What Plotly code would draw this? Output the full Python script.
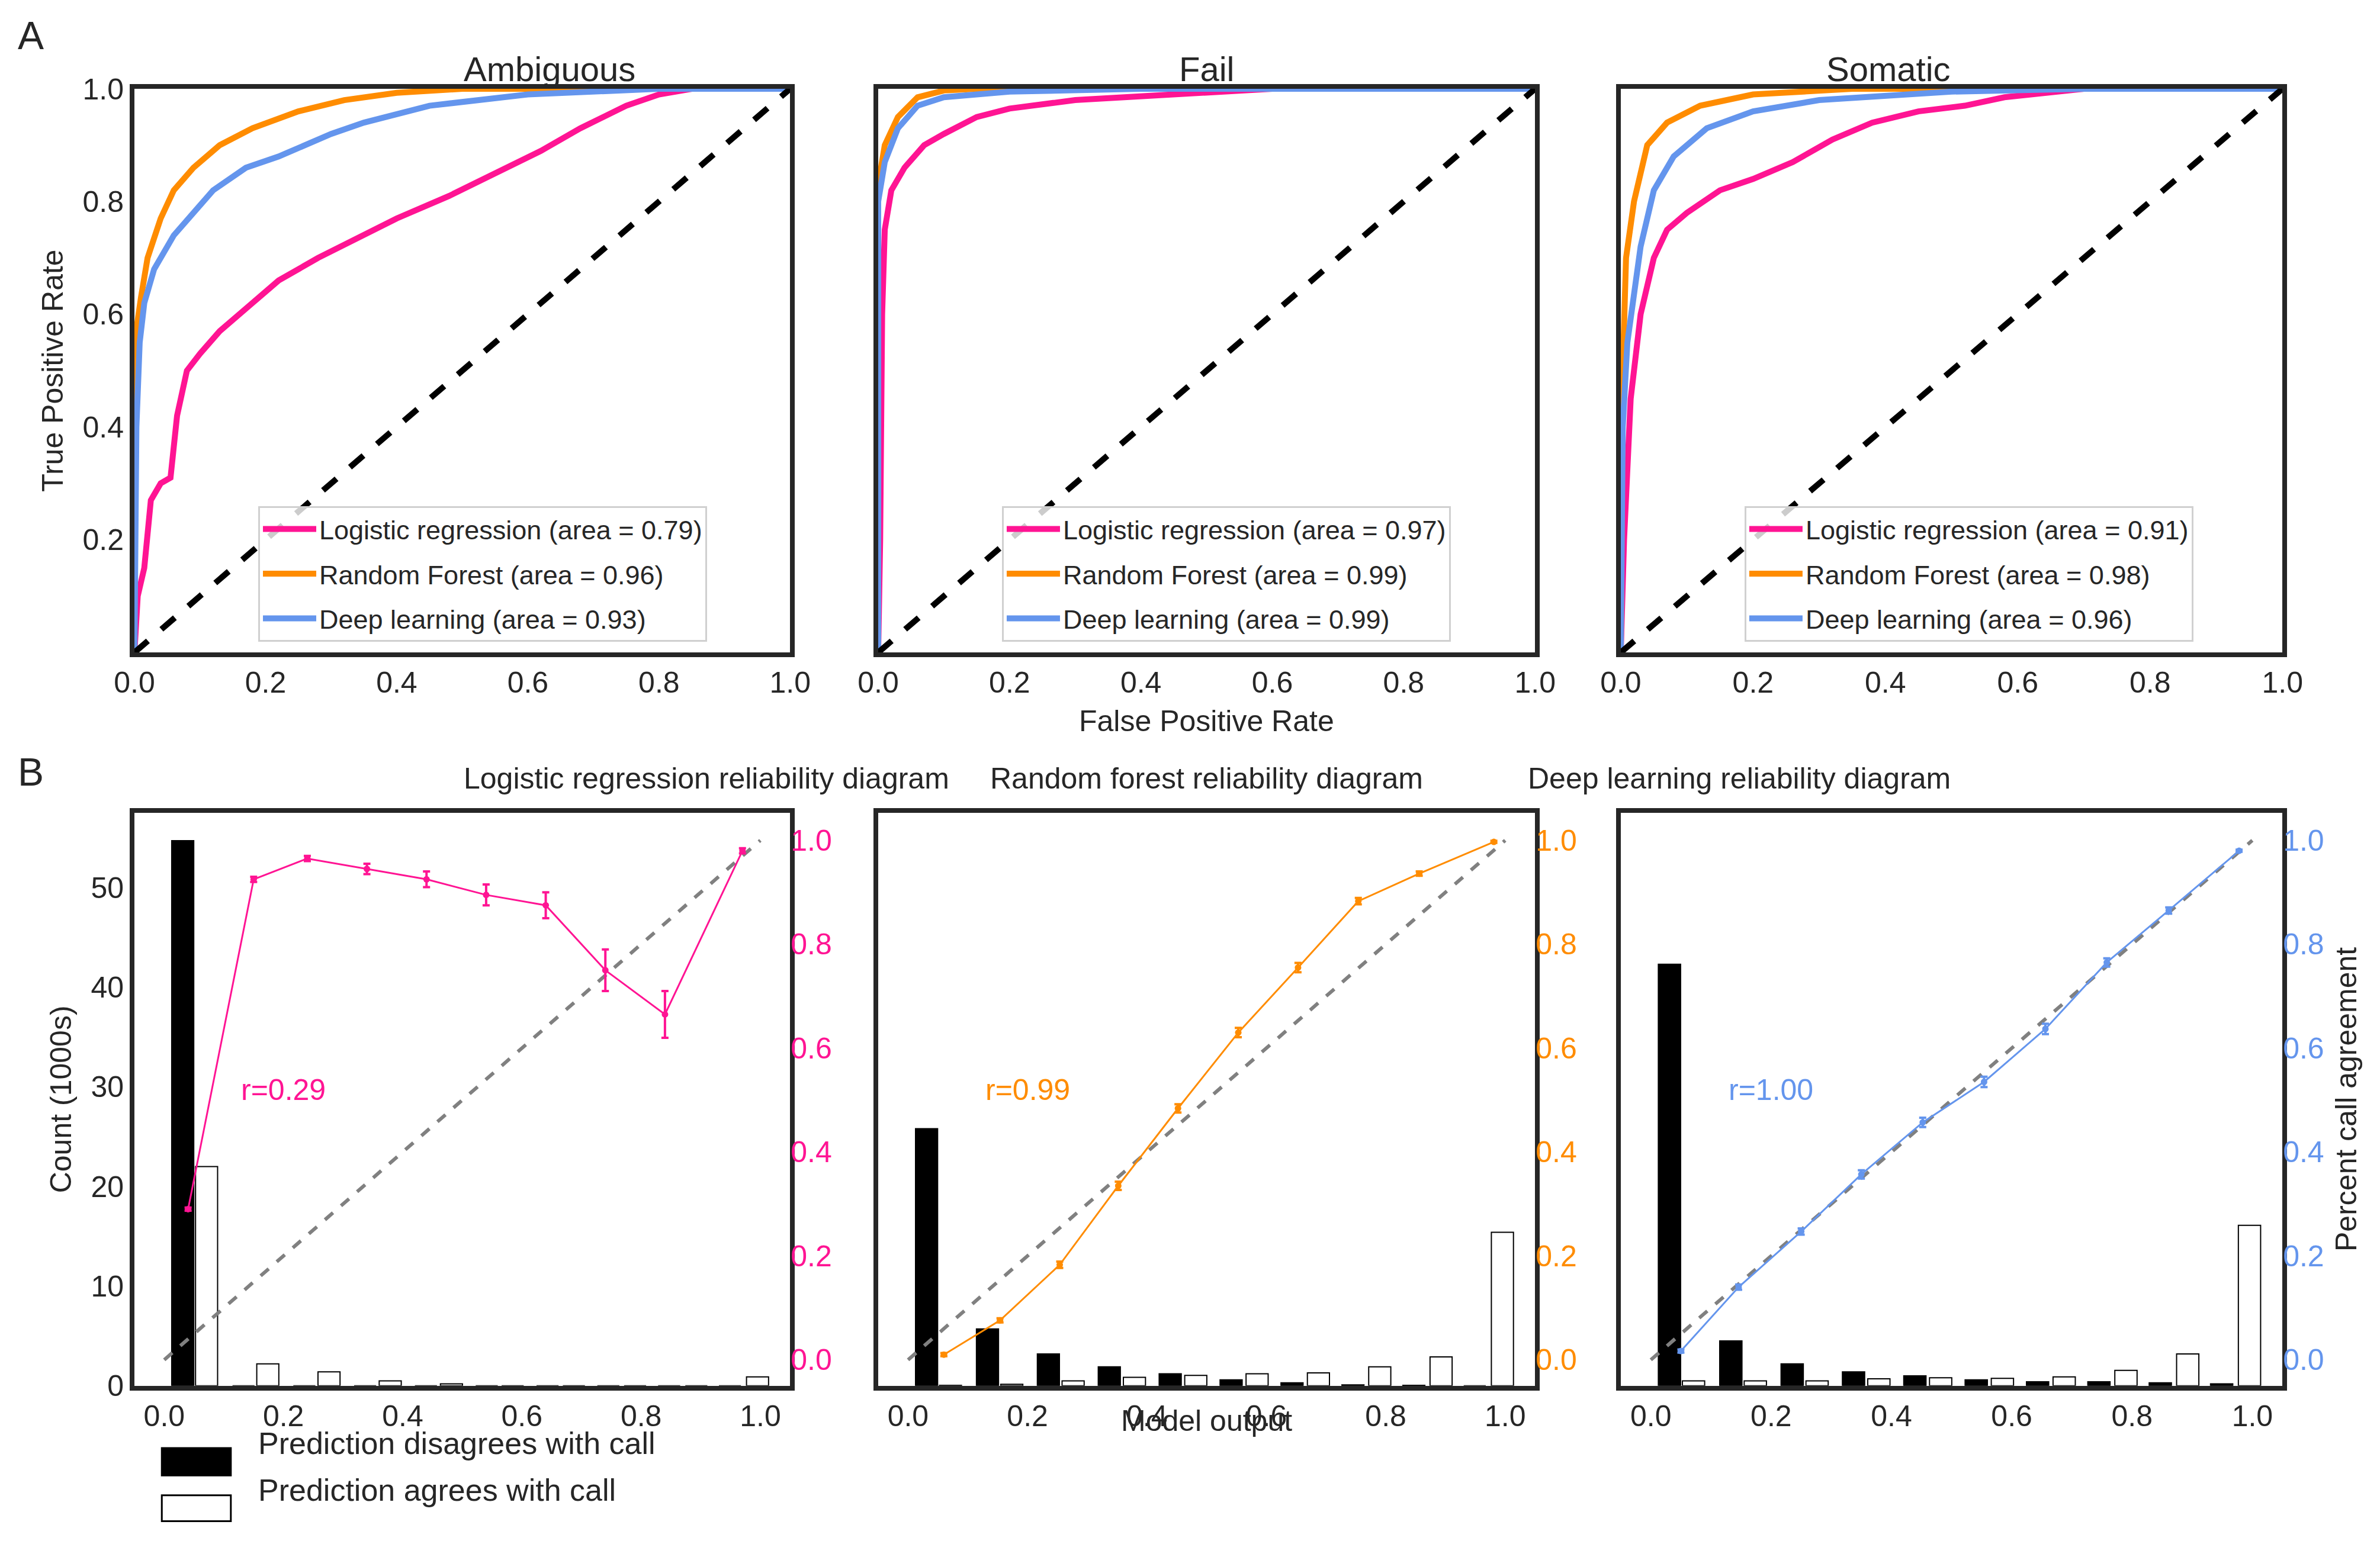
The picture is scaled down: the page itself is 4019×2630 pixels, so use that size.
import plotly.graph_objects as go

# ROC curves (FPR, TPR)
roc_titles = ["Ambiguous", "Fail", "Somatic"]
model_names = ["Logistic regression", "Random Forest", "Deep learning"]
model_colors = ["#ff1493", "#ff8c00", "#6495ed"]
auc = [[0.79, 0.96, 0.93], [0.97, 0.99, 0.99], [0.91, 0.98, 0.96]]

amb_lr_x = [0, 0.005, 0.015, 0.025, 0.04, 0.055, 0.065, 0.08, 0.1, 0.13, 0.18, 0.22, 0.28, 0.33, 0.4, 0.48, 0.55, 0.62, 0.68, 0.75, 0.8, 0.85, 1]
amb_lr_y = [0, 0.1, 0.15, 0.27, 0.3, 0.31, 0.42, 0.5, 0.53, 0.57, 0.62, 0.66, 0.7, 0.73, 0.77, 0.81, 0.85, 0.89, 0.93, 0.97, 0.99, 1.0, 1]
amb_rf_x = [0, 0, 0.01, 0.02, 0.04, 0.06, 0.09, 0.13, 0.18, 0.25, 0.32, 0.4, 0.5, 1]
amb_rf_y = [0, 0.55, 0.63, 0.7, 0.77, 0.82, 0.86, 0.9, 0.93, 0.96, 0.98, 0.993, 1.0, 1]
amb_dl_x = [0, 0.003, 0.008, 0.015, 0.03, 0.06, 0.09, 0.12, 0.17, 0.22, 0.3, 0.35, 0.45, 0.6, 0.8, 1]
amb_dl_y = [0, 0.4, 0.55, 0.62, 0.68, 0.74, 0.78, 0.82, 0.86, 0.88, 0.92, 0.94, 0.97, 0.99, 1.0, 1]

fail_lr_x = [0, 0.003, 0.006, 0.01, 0.02, 0.04, 0.07, 0.1, 0.15, 0.2, 0.3, 0.45, 0.6, 1]
fail_lr_y = [0, 0.2, 0.6, 0.75, 0.82, 0.86, 0.9, 0.92, 0.95, 0.965, 0.98, 0.99, 1.0, 1]
fail_rf_x = [0, 0, 0.01, 0.03, 0.06, 0.1, 0.15, 1]
fail_rf_y = [0, 0.83, 0.9, 0.95, 0.985, 0.997, 1, 1]
fail_dl_x = [0, 0, 0.01, 0.03, 0.06, 0.1, 0.2, 0.4, 1]
fail_dl_y = [0, 0.8, 0.87, 0.93, 0.97, 0.985, 0.995, 1.0, 1]

som_lr_x = [0, 0.005, 0.015, 0.03, 0.05, 0.07, 0.1, 0.15, 0.2, 0.26, 0.32, 0.38, 0.45, 0.52, 0.58, 0.7, 1]
som_lr_y = [0, 0.2, 0.45, 0.6, 0.7, 0.75, 0.78, 0.82, 0.84, 0.87, 0.91, 0.94, 0.96, 0.97, 0.985, 1.0, 1]
som_rf_x = [0, 0.003, 0.008, 0.02, 0.04, 0.07, 0.12, 0.2, 0.35, 1]
som_rf_y = [0, 0.5, 0.7, 0.8, 0.9, 0.94, 0.97, 0.99, 1.0, 1]
som_dl_x = [0, 0.003, 0.01, 0.03, 0.05, 0.08, 0.13, 0.2, 0.3, 0.5, 0.7, 1]
som_dl_y = [0, 0.4, 0.55, 0.72, 0.82, 0.88, 0.93, 0.96, 0.98, 0.995, 1, 1]

roc_data = [
    [(amb_lr_x, amb_lr_y), (amb_rf_x, amb_rf_y), (amb_dl_x, amb_dl_y)],
    [(fail_lr_x, fail_lr_y), (fail_rf_x, fail_rf_y), (fail_dl_x, fail_dl_y)],
    [(som_lr_x, som_lr_y), (som_rf_x, som_rf_y), (som_dl_x, som_dl_y)],
]

# reliability diagrams
rel_titles = ["Logistic regression reliability diagram", "Random forest reliability diagram",
              "Deep learning reliability diagram"]
r_labels = ["r=0.29", "r=0.99", "r=1.00"]
bar_black_x = [0.031 + 0.102 * i for i in range(10)]
bar_white_x = [0.071 + 0.1027 * i for i in range(10)]
lr_disagree = [54.7, 0, 0, 0, 0, 0, 0, 0, 0, 0]
lr_agree = [22, 2.2, 1.4, 0.5, 0.2, 0, 0, 0, 0, 0.9]
rf_disagree = [25.8, 5.7, 3.2, 1.9, 1.2, 0.6, 0.3, 0.1, 0.05, 0]
rf_agree = [0.05, 0.15, 0.5, 0.85, 1.05, 1.2, 1.3, 1.9, 2.9, 15.4]
dl_disagree = [42.3, 4.5, 2.2, 1.4, 1.0, 0.6, 0.4, 0.4, 0.3, 0.2]
dl_agree = [0.5, 0.5, 0.5, 0.7, 0.8, 0.75, 0.9, 1.55, 3.2, 16.1]

lr_px = [0.04, 0.15, 0.24, 0.34, 0.44, 0.54, 0.64, 0.74, 0.84, 0.97]
lr_py = [0.29, 0.925, 0.965, 0.945, 0.925, 0.895, 0.875, 0.75, 0.665, 0.98]
lr_err = [0.003, 0.005, 0.005, 0.01, 0.015, 0.02, 0.025, 0.04, 0.045, 0.005]
rf_px = [0.06, 0.154, 0.254, 0.352, 0.452, 0.553, 0.653, 0.754, 0.856, 0.981]
rf_py = [0.01, 0.076, 0.183, 0.335, 0.484, 0.63, 0.755, 0.883, 0.936, 0.997]
rf_err = [0.003, 0.004, 0.006, 0.008, 0.008, 0.009, 0.009, 0.006, 0.004, 0.002]
dl_px = [0.05, 0.146, 0.25, 0.35, 0.452, 0.554, 0.656, 0.758, 0.861, 0.978]
dl_py = [0.017, 0.14, 0.247, 0.357, 0.457, 0.535, 0.637, 0.765, 0.865, 0.98]
dl_err = [0.003, 0.005, 0.006, 0.008, 0.009, 0.01, 0.01, 0.008, 0.006, 0.002]

rel_bars = [(lr_disagree, lr_agree), (rf_disagree, rf_agree), (dl_disagree, dl_agree)]
rel_points = [(lr_px, lr_py, lr_err), (rf_px, rf_py, rf_err), (dl_px, dl_py, dl_err)]
bar_legend = ["Prediction disagrees with call", "Prediction agrees with call"]

FONT = "Liberation Sans, Arial, sans-serif"
TXT = "#262626"
TICK = 50
xdom = [[0.0545, 0.330], [0.367, 0.643], [0.679, 0.957]]
top_dom = [0.584, 0.946]
bot_dom = [0.113, 0.481]

fig = go.Figure()
lay = {}

frame = dict(showline=True, mirror=True, linewidth=8, linecolor=TXT, showgrid=False, zeroline=False,
             ticks="", automargin=False, tickfont=dict(size=TICK, color=TXT, family=FONT))

for p in range(3):
    xa = "x" if p == 0 else f"x{p + 1}"
    ya = "y" if p == 0 else f"y{p + 1}"
    leg = "legend" if p == 0 else f"legend{p + 1}"
    for m in range(3):
        xs, ys = roc_data[p][m]
        fig.add_trace(go.Scatter(x=xs, y=ys, mode="lines", xaxis=xa, yaxis=ya, legend=leg,
                                 legendgroup=f"g{p}{m}",
                                 line=dict(color=model_colors[m], width=10),
                                 name=f"{model_names[m]} (area = {auc[p][m]:.2f})"))
    fig.add_trace(go.Scatter(x=[0, 1], y=[0, 1], mode="lines", xaxis=xa, yaxis=ya, showlegend=False,
                             line=dict(color="black", width=10, dash="dash")))
    k = "" if p == 0 else str(p + 1)
    lay[f"xaxis{k}"] = dict(frame, domain=xdom[p], range=[0, 1], tickvals=[0, 0.2, 0.4, 0.6, 0.8, 1.0],
                            tickformat=".1f", anchor=ya)
    lay[f"yaxis{k}"] = dict(frame, domain=top_dom, range=[0, 1], tickvals=[0.2, 0.4, 0.6, 0.8, 1.0],
                            tickformat=".1f", anchor=xa, showticklabels=(p == 0))
    lay[leg] = dict(x=xdom[p][0] + 0.052, y=0.678, xanchor="left", yanchor="top",
                    bgcolor="rgba(255,255,255,0.8)", bordercolor="#d0d0d0", borderwidth=3,
                    font=dict(size=45, color=TXT, family=FONT), itemwidth=90, tracegroupgap=14)
lay["yaxis"]["title"] = dict(text="True Positive Rate", font=dict(size=TICK, color=TXT, family=FONT), standoff=20)

for p in range(3):
    xa = f"x{p + 4}"
    yl = f"y{p + 4}"
    yr = f"y{p + 7}"
    dis, agr = rel_bars[p]
    fig.add_trace(go.Bar(x=bar_black_x, y=dis, width=0.037, xaxis=xa, yaxis=yl, showlegend=False,
                         marker=dict(color="black", line=dict(color="black", width=2)),
                         name=bar_legend[0]))
    fig.add_trace(go.Bar(x=bar_white_x, y=agr, width=0.037, xaxis=xa, yaxis=yl, showlegend=False,
                         marker=dict(color="white", line=dict(color="black", width=2)),
                         name=bar_legend[1]))
    fig.add_trace(go.Scatter(x=[0, 1], y=[0, 1], mode="lines", xaxis=xa, yaxis=yr, showlegend=False,
                             line=dict(color="gray", width=6, dash="dash")))
    px, py, pe = rel_points[p]
    c = model_colors[p]
    fig.add_trace(go.Scatter(x=px, y=py, mode="lines+markers", xaxis=xa, yaxis=yr, showlegend=False,
                             line=dict(color=c, width=3), marker=dict(color=c, size=11),
                             error_y=dict(type="data", array=pe, color=c, thickness=4, width=6)))
    lay[f"xaxis{p + 4}"] = dict(frame, domain=xdom[p], range=[-0.05, 1.05],
                                tickvals=[0, 0.2, 0.4, 0.6, 0.8, 1.0], tickformat=".1f", anchor=yl)
    lay[f"yaxis{p + 4}"] = dict(frame, domain=bot_dom, range=[0, 57.5], tickvals=[0, 10, 20, 30, 40, 50],
                                anchor=xa, showticklabels=(p == 0))
    lay[f"yaxis{p + 7}"] = dict(showgrid=False, zeroline=False, showline=False, overlaying=yl, side="right",
                                anchor=xa, range=[-0.05, 1.053], tickvals=[0, 0.2, 0.4, 0.6, 0.8, 1.0],
                                tickformat=".1f", ticks="", automargin=False,
                                tickfont=dict(size=TICK, color=c, family=FONT))
    fig.add_annotation(text=r_labels[p], x=0.2, y=0.52, xref=xa, yref=yr, showarrow=False,
                       font=dict(size=TICK, color=c, family=FONT))
    fig.add_annotation(text=roc_titles[p], x=sum(xdom[p]) / 2, y=0.972, xref="paper", yref="paper",
                       showarrow=False, font=dict(size=58, color=TXT, family=FONT))
    fig.add_annotation(text=rel_titles[p], x=sum(xdom[p]) / 2, y=0.503, xref="paper", yref="paper",
                       showarrow=False, font=dict(size=50, color=TXT, family=FONT))

lay["yaxis4"]["title"] = dict(text="Count (1000s)", font=dict(size=TICK, color=TXT, family=FONT), standoff=20)
lay["yaxis9"]["title"] = dict(text="Percent call agreement", font=dict(size=TICK, color=TXT, family=FONT), standoff=20)

# legend for the bars, drawn as swatches below the first reliability panel
swatch_y = [(0.0554, 0.073), (0.026, 0.0427)]
swatch_fill = ["black", "white"]
for i in range(2):
    fig.add_shape(type="rect", xref="paper", yref="paper", x0=0.066, x1=0.095,
                  y0=swatch_y[i][0], y1=swatch_y[i][1], fillcolor=swatch_fill[i],
                  line=dict(color="black", width=3))
    fig.add_annotation(text=bar_legend[i], x=0.106, y=sum(swatch_y[i]) / 2, xref="paper", yref="paper",
                       showarrow=False, xanchor="left", font=dict(size=52, color=TXT, family=FONT))

for txt, x, y in [("A", 0.005, 0.995), ("B", 0.005, 0.522)]:
    fig.add_annotation(text=txt, x=x, y=y, xref="paper", yref="paper", showarrow=False,
                       xanchor="left", yanchor="top", font=dict(size=66, color=TXT, family=FONT))
fig.add_annotation(text="False Positive Rate", x=0.505, y=0.54, xref="paper", yref="paper",
                   showarrow=False, font=dict(size=TICK, color=TXT, family=FONT))
fig.add_annotation(text="Model output", x=0.505, y=0.079, xref="paper", yref="paper",
                   showarrow=False, font=dict(size=TICK, color=TXT, family=FONT))

fig.update_layout(**lay)
fig.update_layout(width=4019, height=2630, paper_bgcolor="white", plot_bgcolor="white",
                  barmode="overlay", margin=dict(l=0, r=0, t=0, b=0), font=dict(family=FONT, color=TXT))

fig.write_html("out.html")
